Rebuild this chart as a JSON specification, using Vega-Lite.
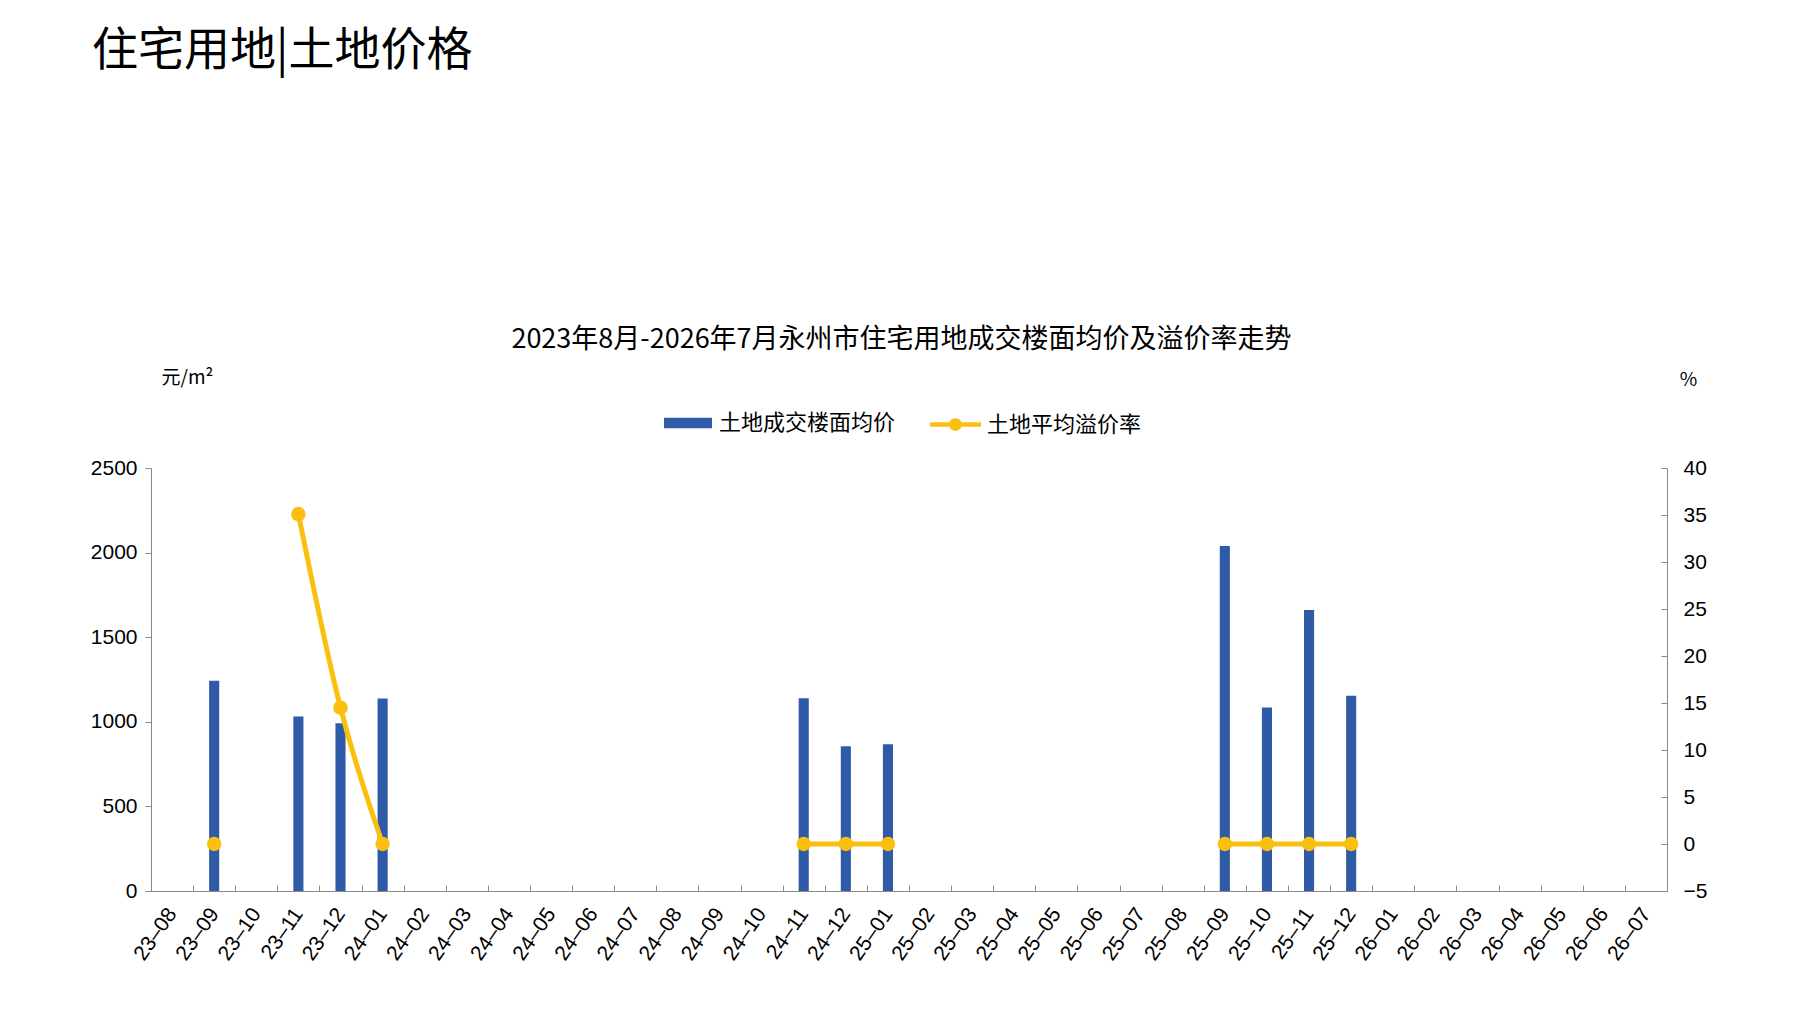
{
  "$schema": "https://vega.github.io/schema/vega-lite/v6.json",
  "width": 1516,
  "height": 423,
  "autosize": "none",
  "padding": {"left": 151, "top": 468, "right": 130, "bottom": 119},
  "background": "white",
  "config": {
    "view": {"stroke": "transparent"},
    "axis": {"grid": false, "domainColor": "#898989", "tickColor": "#898989", "labelColor": "#000000", "labelFont": "Liberation Sans", "labelFontSize": 21, "titleColor": "#000000", "titleFont": "Noto Sans CJK SC", "titleFontWeight": "normal"},
    "legend": {"labelFont": "Noto Sans CJK SC", "labelFontSize": 22, "labelColor": "#000000", "labelLimit": 400, "padding": 0, "symbolStrokeWidth": 0, "symbolOpacity": 1}
  },
  "title": {
    "text": "住宅用地|土地价格",
    "anchor": "start",
    "frame": "group",
    "font": "Noto Sans CJK SC",
    "fontSize": 46,
    "fontWeight": "normal",
    "color": "#000000",
    "offset": 250,
    "dx": -59
  },
  "data": {
    "values": [
      {"month": "23–08", "price": null, "rate": null, "seg": null},
      {"month": "23–09", "price": 1243, "rate": 0, "seg": "a"},
      {"month": "23–10", "price": null, "rate": null, "seg": null},
      {"month": "23–11", "price": 1031, "rate": 35.1, "seg": "b"},
      {"month": "23–12", "price": 991, "rate": 14.5, "seg": "b"},
      {"month": "24–01", "price": 1137, "rate": 0, "seg": "b"},
      {"month": "24–02", "price": null, "rate": null, "seg": null},
      {"month": "24–03", "price": null, "rate": null, "seg": null},
      {"month": "24–04", "price": null, "rate": null, "seg": null},
      {"month": "24–05", "price": null, "rate": null, "seg": null},
      {"month": "24–06", "price": null, "rate": null, "seg": null},
      {"month": "24–07", "price": null, "rate": null, "seg": null},
      {"month": "24–08", "price": null, "rate": null, "seg": null},
      {"month": "24–09", "price": null, "rate": null, "seg": null},
      {"month": "24–10", "price": null, "rate": null, "seg": null},
      {"month": "24–11", "price": 1139, "rate": 0, "seg": "c"},
      {"month": "24–12", "price": 856, "rate": 0, "seg": "c"},
      {"month": "25–01", "price": 868, "rate": 0, "seg": "c"},
      {"month": "25–02", "price": null, "rate": null, "seg": null},
      {"month": "25–03", "price": null, "rate": null, "seg": null},
      {"month": "25–04", "price": null, "rate": null, "seg": null},
      {"month": "25–05", "price": null, "rate": null, "seg": null},
      {"month": "25–06", "price": null, "rate": null, "seg": null},
      {"month": "25–07", "price": null, "rate": null, "seg": null},
      {"month": "25–08", "price": null, "rate": null, "seg": null},
      {"month": "25–09", "price": 2039, "rate": 0, "seg": "d"},
      {"month": "25–10", "price": 1085, "rate": 0, "seg": "d"},
      {"month": "25–11", "price": 1661, "rate": 0, "seg": "d"},
      {"month": "25–12", "price": 1154, "rate": 0, "seg": "d"},
      {"month": "26–01", "price": null, "rate": null, "seg": null},
      {"month": "26–02", "price": null, "rate": null, "seg": null},
      {"month": "26–03", "price": null, "rate": null, "seg": null},
      {"month": "26–04", "price": null, "rate": null, "seg": null},
      {"month": "26–05", "price": null, "rate": null, "seg": null},
      {"month": "26–06", "price": null, "rate": null, "seg": null},
      {"month": "26–07", "price": null, "rate": null, "seg": null}
    ]
  },
  "encoding": {
    "x": {
      "field": "month",
      "type": "nominal",
      "sort": null,
      "scale": {
        "type": "band",
        "paddingInner": 0,
        "paddingOuter": 0,
        "domain": ["23–08", "23–09", "23–10", "23–11", "23–12", "24–01", "24–02", "24–03", "24–04", "24–05", "24–06", "24–07", "24–08", "24–09", "24–10", "24–11", "24–12", "25–01", "25–02", "25–03", "25–04", "25–05", "25–06", "25–07", "25–08", "25–09", "25–10", "25–11", "25–12", "26–01", "26–02", "26–03", "26–04", "26–05", "26–06", "26–07"]
      },
      "axis": {
        "title": "2023年8月-2026年7月永州市住宅用地成交楼面均价及溢价率走势",
        "titleFontSize": 27,
        "titleX": 750,
        "titleY": -552,
        "titleAlign": "center",
        "titleBaseline": "middle",
        "tickBand": "extent",
        "tickSize": -6,
        "labelAngle": -55,
        "labelAlign": "right",
        "labelBaseline": "middle",
        "labelPadding": 25
      }
    }
  },
  "layer": [
    {
      "mark": {"type": "bar", "width": {"band": 0.24}},
      "encoding": {
        "y": {
          "field": "price",
          "type": "quantitative",
          "scale": {"domain": [0, 2500], "nice": false},
          "axis": {
            "values": [0, 500, 1000, 1500, 2000, 2500],
            "format": "d",
            "tickSize": 6,
            "labelPadding": 8,
            "title": "元/m²",
            "titleFontSize": 19,
            "titleAngle": 0,
            "titleX": 36,
            "titleY": -91,
            "titleAlign": "center",
            "titleBaseline": "middle"
          }
        },
        "fill": {
          "datum": "土地成交楼面均价",
          "scale": {"range": ["#2E5AA8"]},
          "legend": {
            "title": null,
            "orient": "none",
            "legendX": 513,
            "legendY": -69,
            "symbolType": "M-1,-0.22H1V0.22H-1Z",
            "symbolSize": 2304,
            "labelOffset": 7
          }
        }
      }
    },
    {
      "transform": [{"filter": "datum.rate != null"}],
      "encoding": {
        "y": {
          "field": "rate",
          "type": "quantitative",
          "scale": {"domain": [-5, 40], "nice": false},
          "axis": {
            "orient": "right",
            "values": [-5, 0, 5, 10, 15, 20, 25, 30, 35, 40],
            "tickSize": -6,
            "labelPadding": 22,
            "title": "%",
            "titleFontSize": 19,
            "titleAngle": 0,
            "titleX": 21,
            "titleY": -89,
            "titleAlign": "center",
            "titleBaseline": "middle"
          }
        }
      },
      "layer": [
        {
          "mark": {"type": "line", "interpolate": "cardinal", "tension": 0, "strokeWidth": 5},
          "encoding": {
            "detail": {"field": "seg"},
            "stroke": {
              "datum": "土地平均溢价率",
              "scale": {"range": ["#FBBF0F"]},
              "legend": {
                "title": null,
                "orient": "none",
                "legendX": 779,
                "legendY": -69,
                "symbolType": "M-1,-0.09H1V0.09H-1Z M0.25,0A0.25,0.25 0 1,1 -0.25,0A0.25,0.25 0 1,1 0.25,0Z",
                "symbolSize": 2601,
                "labelOffset": 6,
                "encode": {"symbols": {"update": {"fill": {"value": "#FBBF0F"}, "strokeWidth": {"value": 0}}}}
              }
            }
          }
        },
        {
          "mark": {"type": "point", "filled": true, "size": 210, "opacity": 1, "color": "#FBBF0F"}
        }
      ]
    }
  ],
  "resolve": {"scale": {"y": "independent"}}
}
